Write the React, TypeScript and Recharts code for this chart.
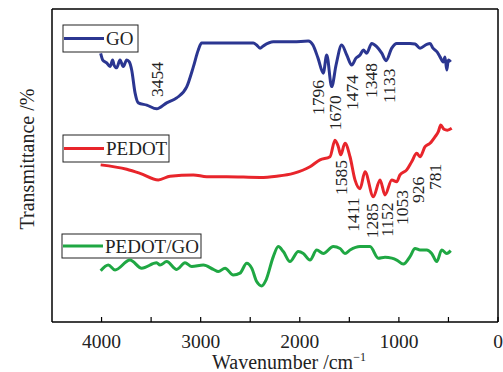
import React from 'react';
import {
  LineChart,
  Line,
  XAxis,
  YAxis,
  ReferenceDot,
  Customized,
} from 'recharts';

// FTIR spectra, wavenumber (cm-1) vs transmittance (a.u., offset)
const goWn = [4009, 3988, 3948, 3915, 3888, 3874, 3847, 3814, 3781, 3746, 3720, 3696, 3662, 3629, 3544, 3444, 3343, 3242, 3141, 3074, 3024, 2990, 2737, 2469, 2435, 2401, 2368, 2267, 2065, 1914, 1867, 1816, 1763, 1728, 1678, 1634, 1577, 1526, 1476, 1433, 1392, 1359, 1325, 1274, 1224, 1173, 1130, 1072, 1022, 888, 837, 787, 719, 686, 656, 615, 585, 552, 535, 517, 501, 477];
const goT = [85.8, 83.7, 82.8, 81.6, 83.7, 82.1, 81.2, 83.7, 81.6, 83.7, 83.1, 80.5, 73.2, 70.0, 69.3, 68.1, 70.0, 71.6, 75.1, 81.5, 86.9, 89.1, 89.1, 89.1, 88.5, 87.5, 88.2, 89.5, 89.5, 89.8, 88.5, 84.3, 79.5, 85.3, 75.2, 82.1, 88.5, 85.3, 82.1, 84.3, 85.3, 86.9, 85.9, 89.0, 88.0, 85.9, 83.5, 87.5, 89.0, 89.0, 88.8, 87.5, 88.7, 89.0, 87.5, 86.3, 84.7, 83.1, 84.7, 80.5, 83.7, 83.1];

const pedotWn = [4009, 3746, 3612, 3427, 3309, 3074, 2939, 2737, 2401, 2233, 2065, 1897, 1796, 1695, 1645, 1611, 1587, 1544, 1493, 1443, 1392, 1342, 1258, 1190, 1140, 1072, 1022, 989, 921, 871, 820, 787, 736, 686, 635, 602, 578, 545, 511, 467];
const pedotT = [50.2, 48.8, 47.5, 45.4, 46.6, 47.0, 46.4, 46.4, 46.2, 46.6, 47.5, 49.6, 51.8, 52.8, 58.1, 56.0, 53.4, 57.1, 52.8, 45.4, 42.6, 48.0, 40.0, 45.4, 40.6, 45.4, 44.8, 47.0, 48.6, 51.2, 53.9, 52.8, 56.0, 57.1, 59.2, 60.8, 62.9, 61.6, 61.3, 61.9];

const compWn = [4009, 3932, 3864, 3713, 3595, 3444, 3410, 3343, 3242, 3158, 3090, 2973, 2872, 2822, 2754, 2671, 2603, 2535, 2485, 2435, 2384, 2341, 2267, 2217, 2166, 2099, 2015, 1964, 1897, 1829, 1763, 1662, 1594, 1544, 1493, 1392, 1291, 1208, 1140, 1072, 1022, 955, 888, 837, 787, 719, 669, 618, 568, 517, 477];
const compT = [16.4, 18.2, 16.6, 19.8, 17.2, 18.9, 18.2, 19.3, 16.8, 18.9, 17.7, 18.2, 16.8, 16.1, 17.2, 15.0, 15.6, 18.8, 17.2, 12.9, 11.5, 13.4, 20.9, 24.1, 22.5, 19.3, 22.5, 21.9, 19.8, 23.0, 21.9, 24.1, 23.5, 21.9, 23.0, 24.1, 24.1, 20.4, 20.7, 20.4, 19.8, 18.5, 20.9, 23.5, 23.0, 23.0, 21.9, 19.3, 23.0, 21.9, 22.8];

// peak labels: text, anchor wavenumber, anchor transmittance (text foot)
const peakText = ['3454', '1796', '1670', '1474', '1348', '1133', '1585', '1411', '1285', '1152', '1053', '926', '781'];
const peakWn = [3444, 1821, 1648, 1470, 1281, 1097, 1587, 1460, 1274, 1123, 972, 804, 635];
const peakT = [71.9, 66.1, 61.3, 67.7, 71.6, 70.0, 40.6, 28.8, 26.8, 27.2, 31.0, 38.0, 42.2];

const xTicks = [4000, 3500, 3000, 2500, 2000, 1500, 1000, 500, 0];

const seriesNames = ['GO', 'PEDOT', 'PEDOT/GO'];
const colors = ['#2b3691', '#e8252b', '#1fa743'];

const toRows = (wn: number[], t: number[]) => wn.map((w, i) => ({ wn: w, t: t[i] }));
const goData = toRows(goWn, goT);
const pedotData = toRows(pedotWn, pedotT);
const compData = toRows(compWn, compT);

const FONT = '"Liberation Serif", "Times New Roman", serif';

const XTick = (props: any) => {
  const { x, y, payload } = props;
  const v = payload.value;
  return (
    <g>
      <line x1={x} x2={x} y1={y} y2={y - 5} stroke="#000" strokeWidth={1.2} />
      {v % 1000 === 0 && (
        <text x={x} y={y + 26} textAnchor="middle" fontFamily={FONT} fontSize={19.5} fill="#222">
          {v}
        </text>
      )}
    </g>
  );
};

const PeakLabel = (text: string) => (props: any) => {
  const { cx, cy } = props;
  return (
    <text
      x={cx}
      y={cy}
      transform={`rotate(-90 ${cx} ${cy})`}
      textAnchor="start"
      dominantBaseline="central"
      fontFamily={FONT}
      fontSize={17.5}
      fill="#222"
    >
      {text}
    </text>
  );
};

// legend boxes: [x, y, w, h]
const legendBoxes = [
  [63, 25, 75, 27],
  [63, 135, 106, 27],
  [62, 234, 139, 24],
];

const Decorations = () => (
  <g fontFamily={FONT} fill="#222">
    {legendBoxes.map((b, i) => (
      <g key={i}>
        <rect x={b[0]} y={b[1]} width={b[2]} height={b[3]} fill="#fff" stroke="#222" strokeWidth={1} />
        <line x1={b[0] + 1} x2={b[0] + 41} y1={b[1] + b[3] / 2} y2={b[1] + b[3] / 2} stroke={colors[i]} strokeWidth={3} />
        <text x={b[0] + 43} y={b[1] + b[3] / 2 + 6.5} fontSize={19} fill="#222">
          {seriesNames[i]}
        </text>
      </g>
    ))}
    <text x={289} y={369} textAnchor="middle" fontSize={20} fill="#222">
      Wavenumber /cm
      <tspan fontSize={12} dy={-8}>−1</tspan>
    </text>
    <text
      x={27}
      y={159}
      transform="rotate(-90 27 159)"
      textAnchor="middle"
      dominantBaseline="central"
      fontSize={20}
      fill="#222"
    >
      Transmittance /%
    </text>
  </g>
);

export default function App() {
  return (
    <div style={{ position: 'absolute', left: 0, top: 0, width: 503, height: 372, background: '#fff' }}>
      <LineChart width={503} height={372} margin={{ top: 8, right: 4, bottom: 0, left: 22 }}>
        <XAxis
          type="number"
          dataKey="wn"
          domain={[0, 4500]}
          reversed
          ticks={xTicks}
          interval={0}
          tick={<XTick />}
          tickLine={false}
          tickSize={0}
          tickMargin={0}
          height={50}
          axisLine={{ stroke: '#000', strokeWidth: 1.5 }}
          allowDataOverflow
        />
        <XAxis
          xAxisId="top"
          orientation="top"
          type="number"
          dataKey="wn"
          domain={[0, 4500]}
          reversed
          tick={false}
          tickLine={false}
          height={1}
          axisLine={{ stroke: '#000', strokeWidth: 1.5 }}
        />
        <YAxis
          type="number"
          domain={[0, 100]}
          tick={false}
          tickLine={false}
          width={30}
          axisLine={{ stroke: '#000', strokeWidth: 1.5 }}
        />
        <YAxis
          yAxisId="right"
          orientation="right"
          type="number"
          domain={[0, 100]}
          tick={false}
          tickLine={false}
          width={1}
          axisLine={{ stroke: '#000', strokeWidth: 1.5 }}
        />
        <Line data={goData} dataKey="t" type="monotone" stroke={colors[0]} strokeWidth={3} dot={false} isAnimationActive={false} />
        <Line data={pedotData} dataKey="t" type="monotone" stroke={colors[1]} strokeWidth={3} dot={false} isAnimationActive={false} />
        <Line data={compData} dataKey="t" type="monotone" stroke={colors[2]} strokeWidth={3} dot={false} isAnimationActive={false} />
        {peakText.map((p, i) => (
          <ReferenceDot
            key={p}
            x={peakWn[i]}
            y={peakT[i]}
            r={0}
            ifOverflow="visible"
            shape={PeakLabel(p)}
          />
        ))}
        <Customized component={<Decorations />} />
      </LineChart>
    </div>
  );
}
